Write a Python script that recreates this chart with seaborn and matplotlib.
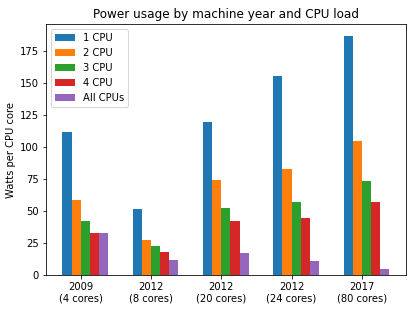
import numpy as np
import pandas as pd
import matplotlib
matplotlib.use('Agg')
import matplotlib.pyplot as plt
import seaborn as sns

# machines (x groups) and load levels (hue)
machines = ['2009\n(4 cores)', '2012\n(8 cores)', '2012\n(20 cores)', '2012\n(24 cores)', '2017\n(80 cores)']
loads = ['1 CPU', '2 CPU', '3 CPU', '4 CPU', 'All CPUs']

# watts per CPU core, one list per load level
watts_1cpu = [112, 52, 120, 156, 187]
watts_2cpu = [58.6, 27.8, 74.2, 83, 104.7]
watts_3cpu = [42.6, 22.8, 52.6, 57.3, 73.5]
watts_4cpu = [32.8, 18, 42.2, 44.8, 57.5]
watts_all = [32.8, 11.7, 17.4, 11.2, 4.9]

df = pd.DataFrame({
    'machine': machines * len(loads),
    'load': np.repeat(loads, len(machines)),
    'watts': watts_1cpu + watts_2cpu + watts_3cpu + watts_4cpu + watts_all,
})

fig, ax = plt.subplots(figsize=(5.76, 4.32), dpi=72)
fig.subplots_adjust(left=0.111, right=0.978, top=0.923, bottom=0.115)

group_w = 0.65
bar_w = group_w / len(loads)
sns.barplot(data=df, x='machine', y='watts', hue='load', order=machines, hue_order=loads,
            palette='tab10', saturation=1, errorbar=None, width=group_w, linewidth=0, ax=ax)

# ticks sit on the left edge of the middle bar, like plain ax.bar with edge alignment
ax.set_xticks(np.arange(len(machines)) - bar_w / 2, machines)
pad = 0.05 * (len(machines) - 1 + group_w)
ax.set_xlim(-group_w / 2 - pad, len(machines) - 1 + group_w / 2 + pad)

ax.set_xlabel('')
ax.set_ylabel('Watts per CPU core')
ax.set_title('Power usage by machine year and CPU load')
sns.move_legend(ax, 'upper left', title=None)

fig.savefig('out.png', dpi=72)
